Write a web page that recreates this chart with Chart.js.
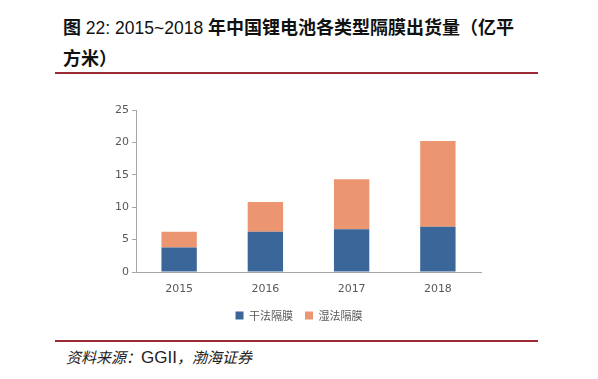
<!DOCTYPE html>
<html>
<head>
<meta charset="utf-8">
<script src="https://cdn.jsdelivr.net/npm/chart.js@4"></script>
<style>
  body { margin: 0; background: #fff; width: 598px; height: 379px; overflow: hidden; position: relative; font-family: "Noto Sans CJK SC", sans-serif; }
  .title { position: absolute; left: 63px; top: 12px; font-size: 18px; font-weight: bold; color: #111; line-height: 29px; white-space: nowrap; }
  .title .lat { font-family: "Liberation Sans", Arial, sans-serif; font-weight: normal; font-size: 17.5px; }
  .rule { position: absolute; left: 55px; width: 483px; height: 2px; background: #9b2a35; }
  .source { position: absolute; left: 66px; top: 346px; font-size: 15px; font-style: italic; color: #222; white-space: nowrap; }
  .source .lat { font-family: "Liberation Sans", Arial, sans-serif; font-style: normal; font-size: 17px; }
  #wrap { position: absolute; left: 0; top: 0; width: 598px; height: 331px; }
</style>
</head>
<body>
<div class="title">图<span class="lat"> 22: 2015~2018 </span>年中国锂电池各类型隔膜出货量（亿平<br>方米）</div>
<div class="rule" style="top:72px"></div>
<div id="wrap"><canvas id="chart"></canvas></div>
<div class="rule" style="top:340px"></div>
<div class="source">资料来源：<span class="lat">GGII</span>，渤海证券</div>
<script>
// 数据
const anos = ['2015', '2016', '2017', '2018'];
const seco = [3.8, 6.2, 6.6, 7.0];   // 干法隔膜
const umido = [2.4, 4.6, 7.7, 13.2]; // 湿法隔膜
const yTicks = [0, 5, 10, 15, 20, 25];

const corTexto = '#595959';
const corEixo = '#a6a6a6';

const ctx = document.getElementById('chart').getContext('2d');
new Chart(ctx, {
    type: 'bar',
    data: {
        labels: anos,
        datasets: [
            { label: '干法隔膜', data: seco, backgroundColor: '#3a6699' },
            { label: '湿法隔膜', data: umido, backgroundColor: '#eb9571' }
        ]
    },
    options: {
        animation: false,
        responsive: true,
        maintainAspectRatio: false,
        layout: { padding: { top: 110, right: 0, left: 0, bottom: 0 } },
        datasets: { bar: { categoryPercentage: 1, barPercentage: 0.41 } },
        scales: {
            x: {
                stacked: true,
                grid: { display: false },
                border: { color: corEixo },
                ticks: { color: corTexto, font: { family: 'DejaVu Sans', size: 11 }, padding: 3 },
                afterFit: (s) => { s.height = 26; }
            },
            y: {
                stacked: true,
                min: 0,
                max: 25,
                afterBuildTicks: (s) => { s.ticks = yTicks.map(v => ({ value: v })); },
                grid: { drawOnChartArea: false, tickLength: 4, color: corEixo },
                border: { color: corEixo },
                ticks: { color: corTexto, font: { family: 'DejaVu Sans', size: 11 }, padding: 3 },
                afterFit: (s) => { s.width = 136; }
            },
            // eixo vazio só para reservar a margem direita (legenda fica centrada na página)
            yDir: {
                position: 'right',
                display: true,
                grid: { display: false },
                border: { display: false },
                ticks: { display: false },
                afterFit: (s) => { s.width = 117; }
            }
        },
        plugins: {
            legend: {
                position: 'bottom',
                labels: {
                    boxWidth: 8, boxHeight: 8, padding: 12,
                    color: corTexto,
                    font: { family: 'Noto Sans CJK SC', size: 11 }
                }
            },
            tooltip: { enabled: false }
        }
    }
});
</script>
</body>
</html>
